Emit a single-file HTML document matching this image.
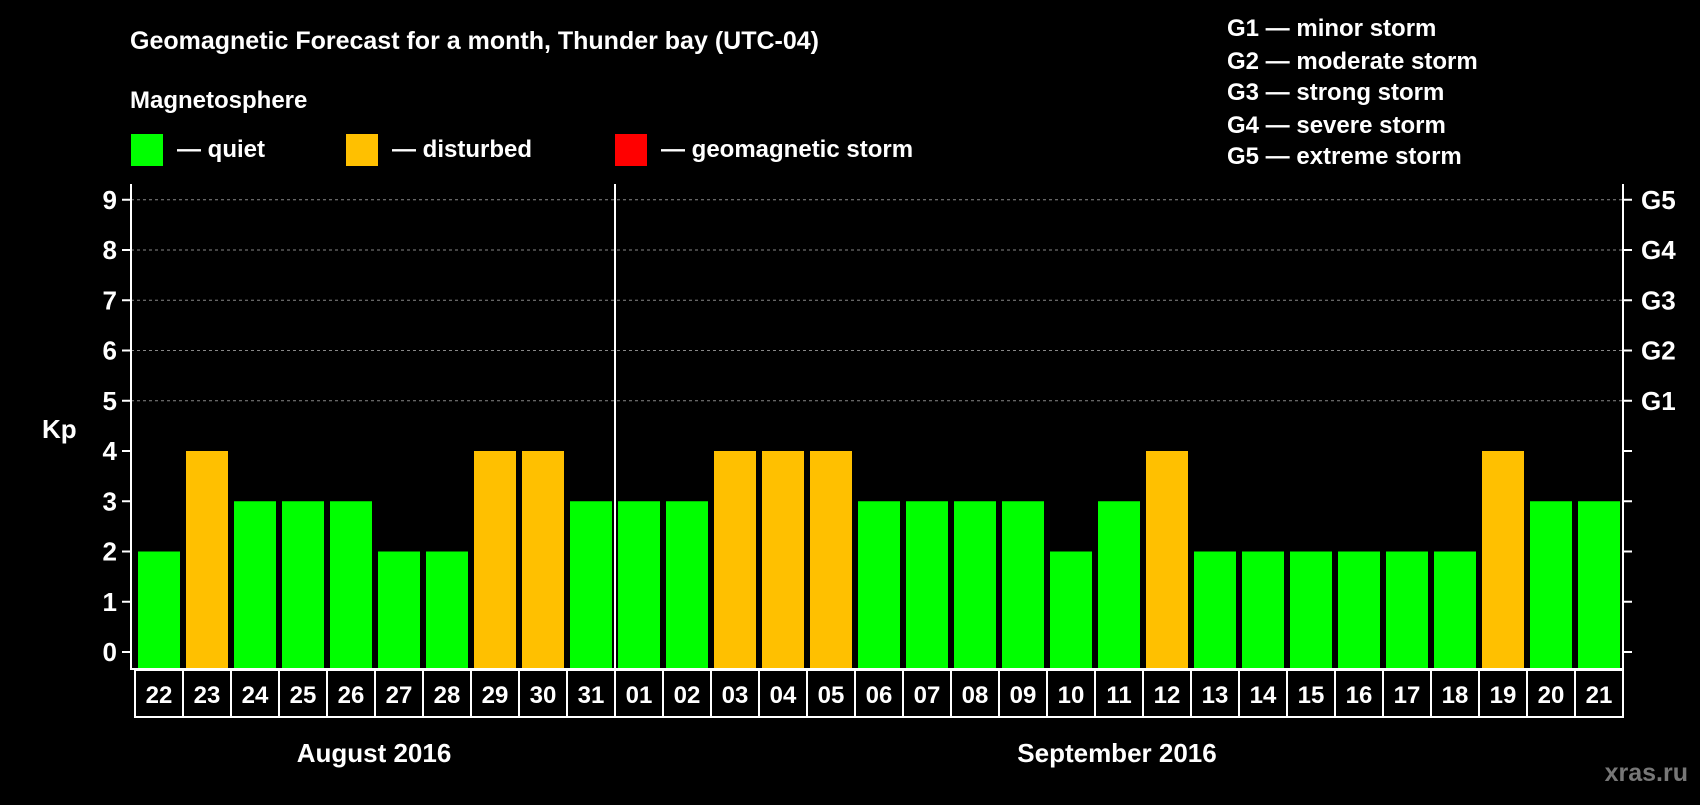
<!DOCTYPE html>
<html><head><meta charset="utf-8"><style>
body{margin:0;background:#000;width:1700px;height:800px;overflow:hidden}
svg text{font-family:"Liberation Sans",Arial,sans-serif;font-weight:bold;fill:#fff}
</style></head><body>
<svg id="c" width="1700" height="800" xmlns="http://www.w3.org/2000/svg">
<text x="130" y="49" font-size="25">Geomagnetic Forecast for a month, Thunder bay (UTC-04)</text>
<text x="130" y="108" font-size="24">Magnetosphere</text>
<rect x="131" y="134" width="32" height="32" fill="#00ff00"/>
<text x="177" y="157" font-size="24">— quiet</text>
<rect x="346" y="134" width="32" height="32" fill="#ffc000"/>
<text x="392" y="157" font-size="24">— disturbed</text>
<rect x="615" y="134" width="32" height="32" fill="#ff0000"/>
<text x="661" y="157" font-size="24">— geomagnetic storm</text>
<g font-size="24">
<text x="1227" y="36">G1 — minor storm</text>
<text x="1227" y="69">G2 — moderate storm</text>
<text x="1227" y="100">G3 — strong storm</text>
<text x="1227" y="133">G4 — severe storm</text>
<text x="1227" y="164">G5 — extreme storm</text>
</g>
<text x="42" y="438" font-size="26">Kp</text>
<text x="374" y="762" font-size="26" text-anchor="middle">August 2016</text>
<text x="1117" y="762" font-size="26" text-anchor="middle">September 2016</text>
<text x="1688" y="781" font-size="25" text-anchor="end" style="fill:#777">xras.ru</text>
<g id="plot"></g>
</svg>
<script>
const days=["22","23","24","25","26","27","28","29","30","31","01","02","03","04","05","06","07","08","09","10","11","12","13","14","15","16","17","18","19","20","21"];
const kp=[2,4,3,3,3,2,2,4,4,3,3,3,4,4,4,3,3,3,3,2,3,4,2,2,2,2,2,2,4,3,3];
const yTicks=[0,1,2,3,4,5,6,7,8,9];
const gLabels=["G1","G2","G3","G4","G5"];
const NS="http://www.w3.org/2000/svg";
const L=131,R=1623,T=184,B=668,X0=135,STEP=48;
const y=v=>652-v*50.25;
const x=i=>X0+i*STEP;
const g=document.getElementById('plot');
function mk(t,a){const e=document.createElementNS(NS,t);for(const k in a)e.setAttribute(k,a[k]);g.appendChild(e);return e;}
yTicks.forEach(v=>{
 if(v>=5){const l=mk('line',{x1:L,x2:R,y1:y(v),y2:y(v),stroke:'#888','stroke-dasharray':'3,3','stroke-width':1});
 
 }
 const t1=mk('line',{x1:L-9,x2:L,y1:y(v),y2:y(v),stroke:'#fff','stroke-width':2});
 
 
 const t2=mk('line',{x1:R,x2:R+9,y1:y(v),y2:y(v),stroke:'#fff','stroke-width':2});
 
 
 const tx=mk('text',{x:L-14,y:y(v)+9,'font-size':26,'text-anchor':'end'});tx.textContent=v;
 
 
});
gLabels.forEach((s,i)=>{const t=mk('text',{x:R+18,y:y(5+i)+9,'font-size':26});t.textContent=s;
 
 });
kp.forEach((v,i)=>{
 const col=v>=5?'#ff0000':(v>=4?'#ffc000':'#00ff00');
 const r=mk('rect',{x:x(i)+3,y:y(v),width:42,height:B-y(v),fill:col});
 
 
 const b=mk('rect',{x:x(i),y:670,width:STEP,height:47,fill:'none',stroke:'#fff','stroke-width':2});
 
 
 const t=mk('text',{x:x(i)+STEP/2,y:703,'font-size':24,'text-anchor':'middle'});t.textContent=days[i];
 
 
});
const ax=mk('path',{d:`M${L} ${T}V${B+1}H${R}V${T}`,fill:'none',stroke:'#fff','stroke-width':2});


const dv=mk('line',{x1:x(10),x2:x(10),y1:T,y2:B,stroke:'#fff','stroke-width':2});


</script>
</body></html>
